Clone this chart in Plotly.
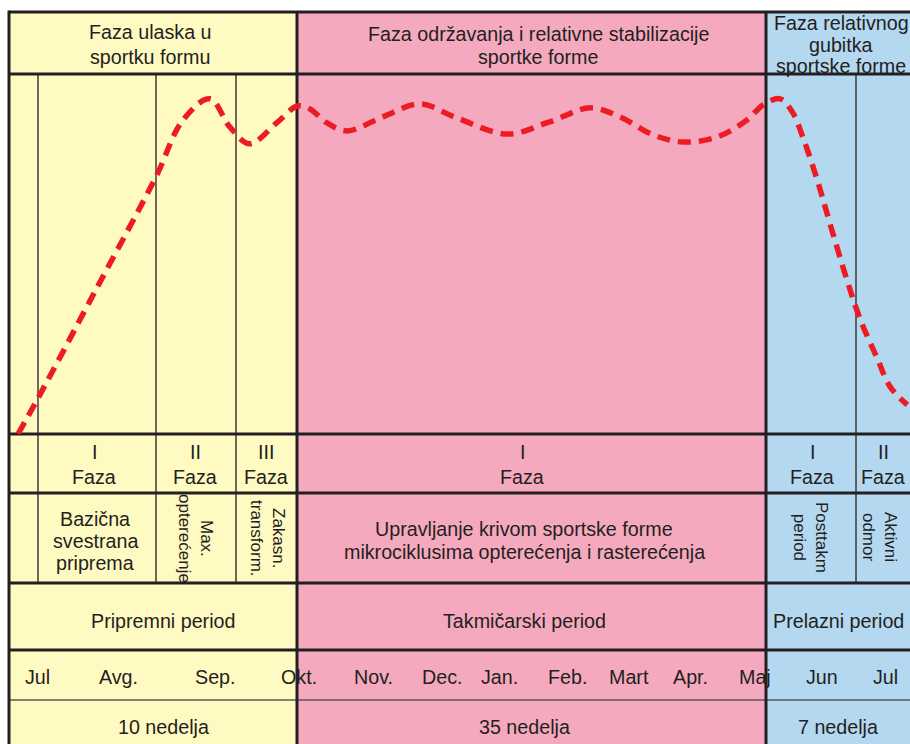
import plotly.graph_objects as go

# ---------------- data ----------------
# sport-form curve: time (% of the annual cycle) and form level (% of max)
form_time = [1.0, 3.3, 9.8, 16.3, 19.3, 22.3, 24.5, 26.7, 29.7, 32.0, 33.4, 35.3,
             37.5, 41.5, 45.6, 49.7, 55.3, 60.0, 64.5, 67.8, 71.5, 74.8, 78.6,
             81.9, 83.7, 85.6, 87.0, 88.1, 89.7, 91.1, 93.0, 94.5, 96.3, 97.8, 99.7]
form_level = [0, 10.3, 40.8, 71.4, 87.2, 93.1, 85.3, 80.6, 86.4, 91.1, 90.3, 86.4,
              84.2, 88.1, 91.7, 87.8, 83.3, 86.7, 90.6, 88.1, 83.1, 81.1, 82.5,
              87.2, 91.4, 93.1, 89.2, 82.5, 70.6, 58.6, 42.8, 31.7, 21.4, 13.1, 8.1]

month_labels = ["Jul", "Avg.", "Sep.", "Okt.", "Nov.", "Dec.", "Jan.", "Feb.",
                "Mart", "Apr.", "Maj", "Jun", "Jul"]
month_time = [3.2, 12.1, 22.9, 32.2, 40.5, 48.1, 54.4, 62.0, 68.8, 75.6, 82.8, 90.2, 97.3]

period_names = ["Pripremni period", "Takmičarski period", "Prelazni period"]
period_weeks = [10, 35, 7]
phase_headers = [["Faza ulaska u", "sportku formu"],
                 ["Faza održavanja i relativne stabilizacije", "sportke forme"],
                 ["Faza relativnog", "gubitka", "sportske forme"]]

# ---------------- layout geometry (pixels) ----------------
W, H = 910, 744
LEFT, TOP, RIGHT = 9, 12, 910
P_EDGES = [9, 297, 766, 925]
FILLS = ["#FFF9C2", "#F5A9BE", "#B5D8F1"]
Y_HEAD, Y_CHART, Y_PHASE, Y_DESC, Y_PER, Y_MON = 74, 434, 493, 583, 650, 700
SUBV = [38, 156, 236, 856]
INK = "#231F20"
FONT = "Liberation Sans, Arial, sans-serif"
NARROW = "Liberation Sans Narrow, Liberation Sans, Arial, sans-serif"
FS = 19.7

shapes = []
for i in range(3):
    shapes.append(dict(type="rect", xref="x", yref="y", x0=P_EDGES[i], x1=P_EDGES[i + 1],
                       y0=TOP, y1=H + 20, fillcolor=FILLS[i], line=dict(width=0), layer="below"))


def hline(y, w=3, c=INK):
    shapes.append(dict(type="line", xref="x", yref="y", x0=LEFT, x1=W + 15, y0=y, y1=y,
                       line=dict(color=c, width=w), layer="below"))


def vline(x, y0, y1, w=3, c=INK):
    shapes.append(dict(type="line", xref="x", yref="y", x0=x, x1=x, y0=y0, y1=y1,
                       line=dict(color=c, width=w), layer="below"))


for sx in SUBV:
    vline(sx, Y_HEAD, Y_DESC, w=1.5, c="#3A3A3A")
hline(Y_MON, w=1.5, c="#5A5A5A")
for y in [TOP, Y_HEAD, Y_CHART, Y_PHASE, Y_DESC, Y_PER]:
    hline(y, w=3)
vline(LEFT, TOP - 1.5, H + 15)
vline(P_EDGES[1], TOP, H + 15)
vline(P_EDGES[2], TOP, H + 15)

annotations = []


def txt(x, y, s, size=FS, angle=0, xref="x", family=FONT):
    annotations.append(dict(x=x, y=y, xref=xref, yref="y", text=s, showarrow=False,
                            textangle=angle, xanchor="center", yanchor="middle",
                            font=dict(size=size, color=INK, family=family)))


# header row
head_x = [150, 538, 841]
head_y = [[32, 57], [34, 57], [23, 45, 66]]
for hx, lines, ys in zip(head_x, phase_headers, head_y):
    for s, yy in zip(lines, ys):
        txt(hx, yy, s)

# phase row
for x, r in [(94, "I"), (195, "II"), (266, "III"), (522, "I"), (812, "I"), (883, "II")]:
    txt(x, 452, r)
    txt(x, 477, "Faza")

# description row
for s, yy in zip(["Bazična", "svestrana", "priprema"], [519, 541, 563]):
    txt(95, yy, s)
txt(196, 538, "Max.<br>opterećenje", size=17, angle=90, family=NARROW)
txt(268, 538, "Zakasn.<br>transform.", size=17, angle=90, family=NARROW)
txt(524, 529, "Upravljanje krivom sportske forme")
txt(524, 552, "mikrociklusima opterećenja i rasterećenja")
txt(811, 537, "Posttakm<br>period", size=17, angle=90, family=NARROW)
txt(880, 537, "Aktivni<br>odmor", size=17, angle=90, family=NARROW)

# period row and weeks row
per_x = [163, 524, 838]
for px, name, wk in zip(per_x, period_names, period_weeks):
    txt(px, 621, name)
    txt(px, 727, f"{wk} nedelja")

# months on the time axis
for t, m in zip(month_time, month_labels):
    txt(t, 677, m, xref="x2")

fig = go.Figure()
fig.add_trace(go.Scatter(x=form_time, y=form_level, xaxis="x2", yaxis="y2", mode="lines",
                         line=dict(color="#EC1C24", width=5.5, dash="13px,8px", shape="spline",
                                   smoothing=1.0),
                         hoverinfo="skip", showlegend=False, cliponaxis=False))

fig.update_layout(
    width=W, height=H, margin=dict(l=0, r=0, t=0, b=0, autoexpand=False),
    paper_bgcolor="white", plot_bgcolor="rgba(0,0,0,0)",
    xaxis=dict(range=[0, W], domain=[0, 1], visible=False, fixedrange=True),
    yaxis=dict(range=[H, 0], domain=[0, 1], visible=False, fixedrange=True),
    xaxis2=dict(range=[0, 100], domain=[LEFT / W, RIGHT / W],
                visible=False, anchor="y2", fixedrange=True),
    yaxis2=dict(range=[0, 100], domain=[(H - Y_CHART) / H, (H - Y_HEAD) / H],
                visible=False, anchor="x2", fixedrange=True),
    shapes=shapes, annotations=annotations, showlegend=False,
)

fig.write_html("out.html", config={"displayModeBar": False},
               post_script="document.body.style.margin='0';"
                           "document.body.style.overflow='hidden';")
